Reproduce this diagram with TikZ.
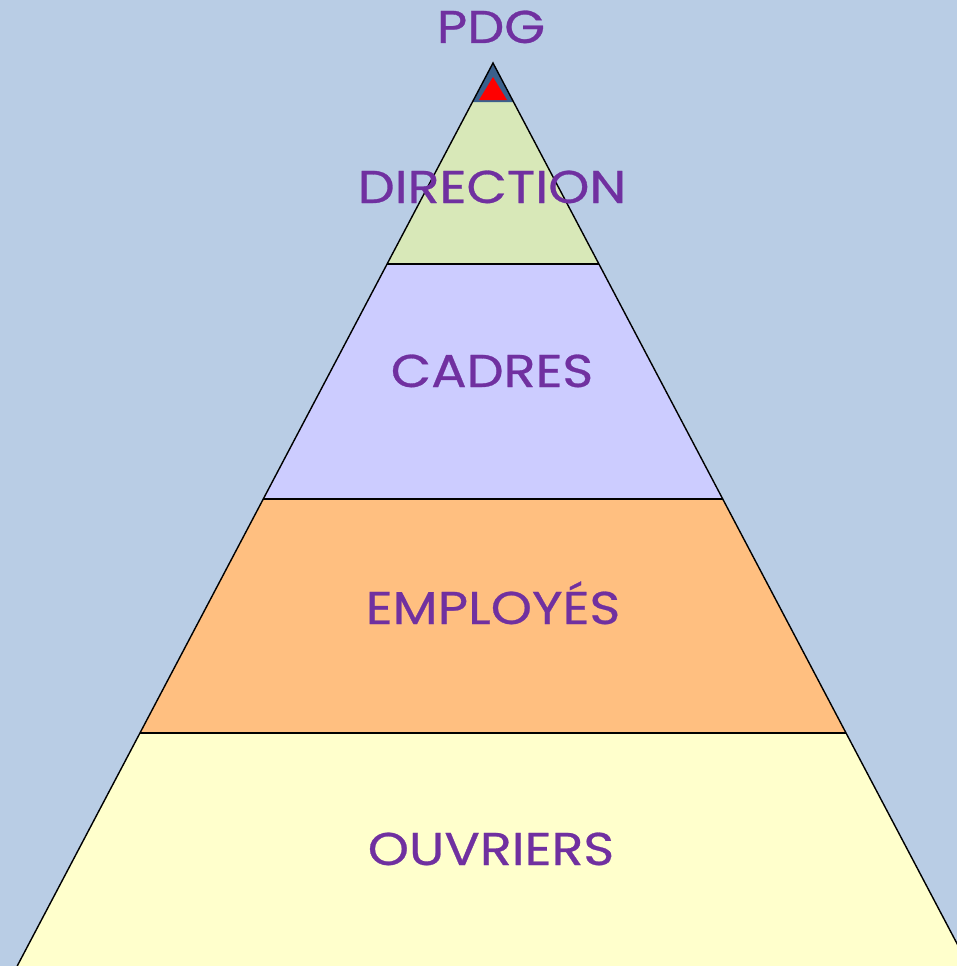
\documentclass[tikz,border=0pt]{standalone}
\usepackage{fontspec}
\setmainfont{Poppins}[FakeStretch=1.14,FakeBold=0.6]
\definecolor{bgblue}{HTML}{B9CDE5}
\definecolor{lvlgreen}{HTML}{D8E8B8}
\definecolor{lvllav}{HTML}{CCCCFF}
\definecolor{lvlorange}{HTML}{FFBF80}
\definecolor{lvlyellow}{HTML}{FFFFCC}
\definecolor{topblue}{HTML}{3A608C}
\definecolor{txtpurple}{HTML}{7030A0}
\begin{document}
\begin{tikzpicture}[x=1pt,y=-1pt,
  lbl/.style={text=txtpurple,font=\fontsize{46}{50}\selectfont,inner sep=0pt,anchor=base},
  edge/.style={draw=black,line width=1.4pt}]
\fill[bgblue] (0,0) rectangle (957,966);
\useasboundingbox (0,0) rectangle (957,966);
% coordinates: x at y = 493 -/+ 0.527*(y-63)
\coordinate (apex) at (493,63);
\coordinate (l1) at (472.3,102);  \coordinate (r1) at (513.7,102);
\coordinate (l2) at (387.1,264);  \coordinate (r2) at (598.9,264);
\coordinate (l3) at (263.2,499);  \coordinate (r3) at (722.8,499);
\coordinate (l4) at (139.9,733);  \coordinate (r4) at (846.1,733);
\coordinate (l5) at (17.2,966);   \coordinate (r5) at (968.8,966);
\fill[lvlyellow] (l4) -- (r4) -- (r5) -- (l5) -- cycle;
\fill[lvlorange] (l3) -- (r3) -- (r4) -- (l4) -- cycle;
\fill[lvllav] (l2) -- (r2) -- (r3) -- (l3) -- cycle;
\fill[lvlgreen] (l1) -- (r1) -- (r2) -- (l2) -- cycle;
\fill[topblue] (apex) -- (r1) -- (l1) -- cycle;
\fill[red] (493,77) -- (507,100) -- (479,100) -- cycle;
\draw[edge] (l5) -- (apex) -- (r5);
\draw[edge] (l2) -- (r2);
\draw[edge] (l3) -- (r3);
\draw[edge] (l4) -- (r4);
\node[lbl] (pdg) at (491,43) {PDG};
\node[lbl] (dir) at (492,203) {DIRECTION};
\node[lbl] (cad) at (492,387) {CADRES};
\node[lbl] (emp) at (493,624) {EMPLOYÉS};
\node[lbl] (ouv) at (491,865) {OUVRIERS};
\end{tikzpicture}
\end{document}
